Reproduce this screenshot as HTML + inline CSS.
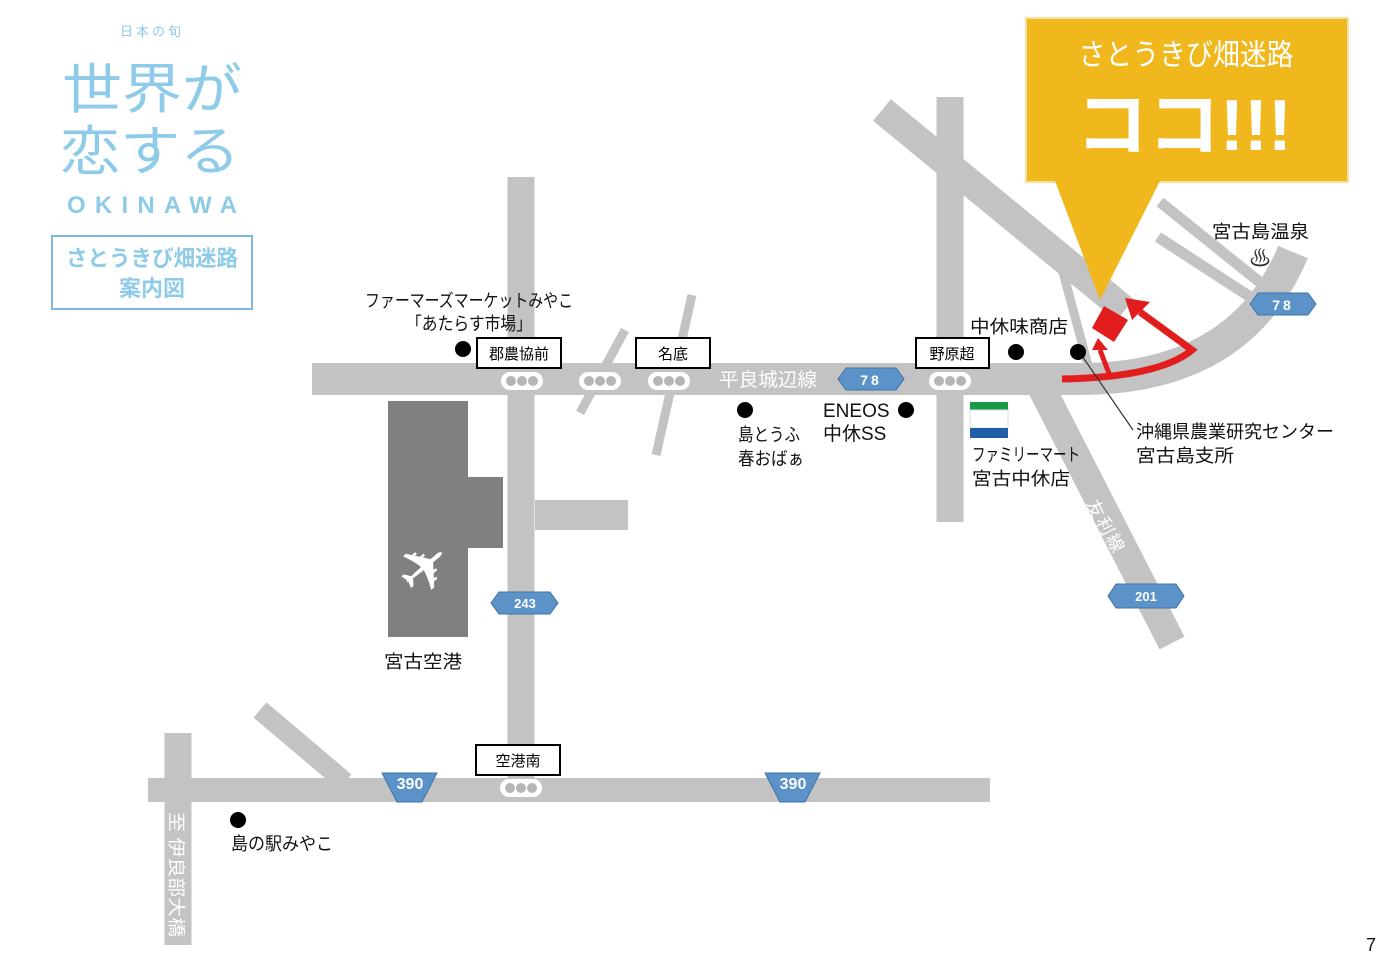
<!DOCTYPE html>
<html><head><meta charset="utf-8"><style>
body{margin:0;background:#fff;}
svg{display:block;font-family:"Liberation Sans","Noto Sans CJK JP",sans-serif;}
</style></head><body>
<svg width="1400" height="969" viewBox="0 0 1400 969" xmlns="http://www.w3.org/2000/svg">
<defs>
<g id="tl"><rect x="-21" y="-9" width="42" height="18" rx="9" fill="#fff"/><circle cx="-11" cy="0" r="5" fill="#b5b5b5"/><circle cx="0" cy="0" r="5" fill="#b5b5b5"/><circle cx="11" cy="0" r="5" fill="#b5b5b5"/></g>
</defs>
<g stroke="#c3c3c3" fill="none" stroke-linecap="butt">
<path d="M312 379 L1080 379 Q1240 379 1293 252" stroke-width="32"/>
<line x1="521" y1="177" x2="521" y2="790" stroke-width="27"/>
<line x1="535" y1="515" x2="628" y2="515" stroke-width="30"/>
<line x1="950" y1="97" x2="950" y2="522" stroke-width="27"/>
<line x1="882" y1="110" x2="1125" y2="310" stroke-width="28"/>
<line x1="1160" y1="202" x2="1272" y2="292" stroke-width="11"/>
<line x1="1158" y1="237" x2="1258" y2="302" stroke-width="11"/>
<line x1="1057" y1="250" x2="1092" y2="380" stroke-width="9"/>
<line x1="1040" y1="385" x2="1172" y2="643" stroke-width="28"/>
<line x1="580" y1="413" x2="625" y2="330" stroke-width="9"/>
<line x1="656" y1="455" x2="692" y2="295" stroke-width="9"/>
<line x1="148" y1="790" x2="990" y2="790" stroke-width="24"/>
<line x1="178" y1="733" x2="178" y2="945" stroke-width="27"/>
<line x1="260" y1="710" x2="345" y2="782" stroke-width="20"/>
</g>
<rect x="388" y="401" width="80" height="236" fill="#808080"/>
<rect x="466" y="477" width="37" height="71" fill="#808080"/>
<text x="426" y="590" font-size="64" fill="#fff" text-anchor="middle" transform="rotate(-40 426 570)">✈</text>
<!-- callout -->
<rect x="1026" y="18" width="322" height="164" fill="#f0b81c" stroke="#f6df9a" stroke-width="2"/>
<polygon points="1055,181 1160,181 1100,300" fill="#f0b81c"/>
<text x="1186" y="65" font-size="30" fill="#fff" text-anchor="middle" textLength="215" lengthAdjust="spacingAndGlyphs">さとうきび畑迷路</text>
<text x="1184" y="150" font-size="72" font-weight="bold" fill="#fff" text-anchor="middle">ココ!!!</text>
<!-- red arrows -->
<polygon points="1092,328 1104,306 1128,320 1114,342" fill="#e21d1d"/>
<path d="M1062 379 Q1160 377 1192 350 L1140 312" stroke="#e21d1d" stroke-width="7" fill="none"/>
<polygon points="1125,298 1150,302 1132,320" fill="#e21d1d"/>
<line x1="1110" y1="376" x2="1100" y2="350" stroke="#e21d1d" stroke-width="5"/>
<polygon points="1092,350 1098,338 1108,350" fill="#e21d1d"/>
<line x1="1080" y1="353" x2="1133" y2="430" stroke="#333" stroke-width="1.2"/>
<!-- logo -->
<g fill="#8dcbe8" text-anchor="middle">
<text x="152" y="36" font-size="13" letter-spacing="3">日本の旬</text>
<text x="152" y="108" font-size="54" textLength="180" lengthAdjust="spacingAndGlyphs">世界が</text>
<text x="150" y="170" font-size="54" textLength="180" lengthAdjust="spacingAndGlyphs">恋する</text>
<text x="152" y="213" font-size="24" textLength="170" lengthAdjust="spacing" font-weight="bold">OKINAWA</text>
</g>
<rect x="52" y="236" width="200" height="73" fill="#fff" stroke="#7db8e0" stroke-width="2"/>
<text x="152" y="266" font-size="22" font-weight="bold" fill="#8dcbe8" text-anchor="middle" textLength="172" lengthAdjust="spacingAndGlyphs">さとうきび畑迷路</text>
<text x="152" y="296" font-size="22" font-weight="bold" fill="#8dcbe8" text-anchor="middle">案内図</text>
<!-- signal boxes -->
<g fill="#fff" stroke="#000" stroke-width="2">
<rect x="477" y="338" width="84" height="30"/>
<rect x="636" y="338" width="74" height="30"/>
<rect x="916" y="338" width="73" height="30"/>
<rect x="476" y="745" width="84" height="30"/>
</g>
<g font-size="15" text-anchor="middle" fill="#000">
<text x="519" y="359">郡農協前</text>
<text x="673" y="359">名底</text>
<text x="952" y="359">野原超</text>
<text x="518" y="766">空港南</text>
</g>
<use href="#tl" x="522" y="381"/><use href="#tl" x="600" y="381"/><use href="#tl" x="669" y="381"/><use href="#tl" x="950" y="381"/><use href="#tl" x="521" y="788"/>
<!-- route shields -->
<g fill="#5b93c9" stroke="#3f73a8" stroke-width="1">
<polygon points="838,379 846,368 896,368 904,379 896,390 846,390"/>
<polygon points="1250,304 1258,293 1308,293 1316,304 1308,315 1258,315"/>
<polygon points="491,603 499,592 550,592 558,603 550,614 499,614"/>
<polygon points="1108,596 1116,584 1176,584 1184,596 1176,608 1116,608"/>
<path d="M382 773 H437 L422 802 H397 Z"/>
<path d="M765 773 H820 L805 802 H780 Z"/>
</g>
<g fill="#fff" font-size="14" font-weight="bold" text-anchor="middle">
<text x="871" y="385" letter-spacing="3">78</text>
<text x="1283" y="310" letter-spacing="3">78</text>
<text x="525" y="608" font-size="13">243</text>
<text x="1146" y="601" font-size="13">201</text>
<text x="410" y="789" font-size="16">390</text>
<text x="793" y="789" font-size="16">390</text>
</g>
<text x="768" y="386" font-size="19" fill="#fff" text-anchor="middle" textLength="98" lengthAdjust="spacingAndGlyphs">平良城辺線</text>
<g fill="#fff" font-size="18" text-anchor="middle">
<text x="1095" y="515" transform="rotate(63 1095 509)">友</text>
<text x="1105" y="532" transform="rotate(63 1105 526)">利</text>
<text x="1115" y="549" transform="rotate(63 1115 543)">線</text>
</g>
<text x="170" y="812" font-size="18" fill="#fff" transform="rotate(90 170 812)" textLength="125" lengthAdjust="spacingAndGlyphs">至 伊良部大橋</text>
<!-- dots -->
<g fill="#000"><circle cx="463" cy="349" r="8"/><circle cx="745" cy="410" r="8"/><circle cx="906" cy="410" r="8"/><circle cx="1016" cy="352" r="8"/><circle cx="1078" cy="352" r="8"/><circle cx="238" cy="820" r="8"/></g>
<!-- labels -->
<g font-size="18" fill="#111" lengthAdjust="spacingAndGlyphs">
<text x="365" y="307" textLength="208" lengthAdjust="spacingAndGlyphs">ファーマーズマーケットみやこ</text>
<text x="406" y="330" textLength="126" lengthAdjust="spacingAndGlyphs">「あたらす市場」</text>
<text x="738" y="441" textLength="62" lengthAdjust="spacingAndGlyphs">島とうふ</text>
<text x="738" y="465" textLength="66" lengthAdjust="spacingAndGlyphs">春おばぁ</text>
<text x="823" y="417" font-size="19">ENEOS</text>
<text x="823" y="440" font-size="19">中休SS</text>
<text x="970" y="333" textLength="98" lengthAdjust="spacingAndGlyphs">中休味商店</text>
<text x="972" y="461" textLength="108" lengthAdjust="spacingAndGlyphs">ファミリーマート</text>
<text x="972" y="485" textLength="98" lengthAdjust="spacingAndGlyphs">宮古中休店</text>
<text x="1136" y="438" textLength="198" lengthAdjust="spacingAndGlyphs">沖縄県農業研究センター</text>
<text x="1136" y="462" textLength="98" lengthAdjust="spacingAndGlyphs">宮古島支所</text>
<text x="1212" y="238" textLength="97" lengthAdjust="spacingAndGlyphs">宮古島温泉</text>
<text x="384" y="668" textLength="78" lengthAdjust="spacingAndGlyphs">宮古空港</text>
<text x="231" y="850" textLength="102" lengthAdjust="spacingAndGlyphs">島の駅みやこ</text>
<text x="1366" y="951">7</text>
</g>
<text x="1260" y="266" font-size="22" fill="#333" text-anchor="middle">♨</text>
<!-- familymart -->
<rect x="970" y="402" width="38" height="8" fill="#1a9a48"/>
<rect x="970" y="410" width="38" height="18" fill="#fff" stroke="#ddd"/>
<rect x="970" y="428" width="38" height="10" fill="#1e5fa8"/>
</svg>
</body></html>
